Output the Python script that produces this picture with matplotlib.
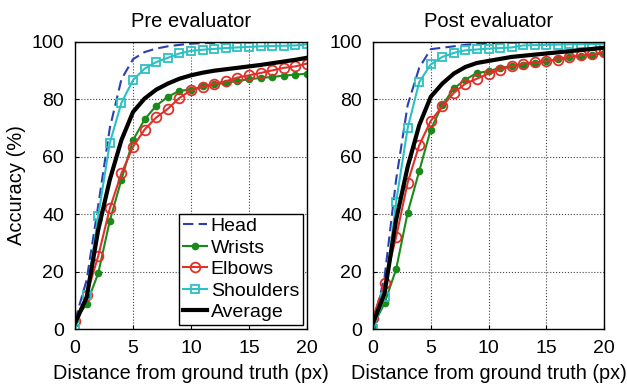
import matplotlib
matplotlib.use("Agg")
import matplotlib.pyplot as plt

plt.rcParams["font.family"] = ["Liberation Sans", "DejaVu Sans"]

dist = list(range(21))

# Pre evaluator
pre_head = [3, 17, 43, 70, 87, 94, 96.5, 97.7, 98.5, 99, 99.4, 99.6, 99.7, 99.8, 99.9, 100, 100, 100, 100, 100, 100]
pre_wrists = [3, 8.7, 19.4, 37.7, 52, 65.8, 73, 77.8, 80.9, 83, 83.4, 84.5, 85.2, 85.8, 86.4, 87, 87.5, 87.8, 88.3, 88.6, 89]
pre_elbows = [2.9, 11.8, 25.4, 42, 54.2, 63.5, 69.5, 73.7, 76.7, 80.5, 83.2, 84.3, 85.5, 86.3, 87.6, 88.4, 89.2, 90.1, 91, 91.5, 92.5]
pre_shoulders = [0, 11.8, 39.4, 64.8, 78.8, 86.7, 90.7, 93, 94.5, 96, 96.9, 97.3, 97.6, 97.9, 98.1, 98.3, 98.5, 98.6, 98.7, 98.8, 99.2]
pre_average = [2, 11, 34.5, 52, 65.8, 75.6, 80.3, 83.4, 85.5, 87.2, 88.4, 89.3, 90, 90.5, 91, 91.5, 92, 92.6, 93.2, 93.8, 94.5]

# Post evaluator
post_head = [2, 18, 52, 78, 91, 97.5, 98, 98.5, 99, 99.3, 99.5, 99.7, 99.8, 99.9, 100, 100, 100, 100, 100, 100, 100]
post_wrists = [1, 9, 20.8, 40.5, 55, 69.5, 78, 83.8, 86.9, 89.2, 89.8, 91, 91.5, 92.1, 92.7, 93.3, 94, 94.6, 95.2, 95.6, 96]
post_elbows = [4, 15.9, 32, 51, 64, 72.5, 77.6, 82.3, 85.5, 87.2, 89, 90.4, 91.5, 92.5, 93, 93.3, 93.9, 94.8, 95.4, 95.7, 96.5]
post_shoulders = [0, 11.2, 44.3, 70, 86, 92.2, 94.8, 96.2, 97.1, 97.4, 97.7, 97.9, 98.1, 98.8, 98.9, 99, 99.1, 99.2, 99.2, 99.3, 99.4]
post_average = [2, 12.4, 38, 56.5, 71, 80.9, 85.5, 89, 91.3, 92.7, 93.4, 94.1, 94.8, 95.2, 95.6, 96, 96.4, 96.8, 97.2, 97.6, 98]

panels = [
    ("Pre evaluator", pre_head, pre_wrists, pre_elbows, pre_shoulders, pre_average),
    ("Post evaluator", post_head, post_wrists, post_elbows, post_shoulders, post_average),
]

W, H = 627, 386
fig = plt.figure(figsize=(W / 100, H / 100), dpi=100)
rects = [
    [75 / W, (H - 329) / H, 232 / W, 287 / H],
    [373 / W, (H - 329) / H, 231 / W, 287 / H],
]

for i, (title, head, wrists, elbows, shoulders, avg) in enumerate(panels):
    ax = fig.add_axes(rects[i])
    ax.plot(dist, head, color="#2b3fb0", lw=1.5, ls=(0, (5, 2.5)), label="Head")
    ax.plot(dist, wrists, color="#1a8a1a", lw=1.5, marker="o", ms=4.5,
            mfc="#1a8a1a", mec="#1a8a1a", label="Wrists")
    ax.plot(dist, elbows, color="#e0302a", lw=1.5, marker="o", ms=7,
            mfc="none", mec="#e0302a", mew=1.3, label="Elbows")
    ax.plot(dist, shoulders, color="#2cc0c4", lw=1.5, marker="s", ms=5.5,
            mfc="none", mec="#2cc0c4", mew=1.3, label="Shoulders")
    ax.plot(dist, avg, color="black", lw=3, label="Average")

    ax.set_xlim(0, 20)
    ax.set_ylim(0, 100)
    ax.set_xticks([0, 5, 10, 15, 20])
    ax.set_yticks([0, 20, 40, 60, 80, 100])
    ax.grid(True, color="#444444", ls=":", lw=0.8)
    ax.tick_params(direction="in", length=3, labelsize=14, pad=8)
    ax.set_title(title, fontsize=14.5, pad=11)
    ax.set_xlabel("Distance from ground truth (px)", fontsize=14.3, labelpad=5)
    for s in ax.spines.values():
        s.set_linewidth(1.0)
    if i == 0:
        ax.set_ylabel("Accuracy (%)", fontsize=14.5, labelpad=4)
        leg = ax.legend(loc="lower right", fontsize=14, fancybox=False,
                        framealpha=1, edgecolor="black", borderpad=0.2,
                        labelspacing=0.2, handlelength=1.25, handletextpad=0.2,
                        borderaxespad=0.2)
        leg.get_frame().set_linewidth(1.0)

fig.savefig("out.png", dpi=100)
